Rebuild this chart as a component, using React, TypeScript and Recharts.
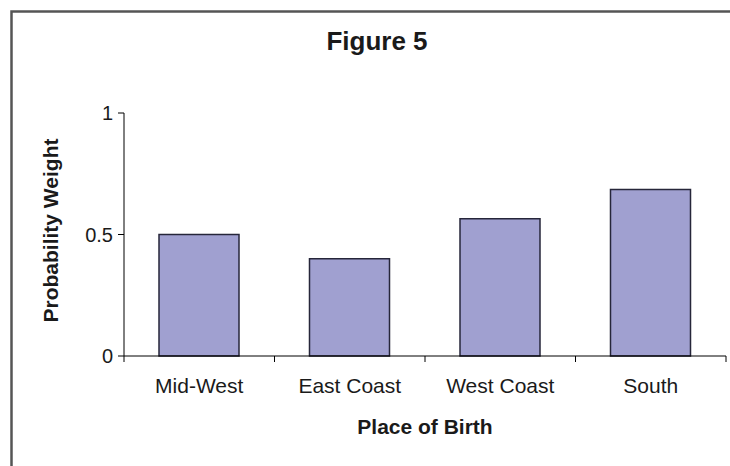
import { BarChart, Bar, XAxis, YAxis, Label } from 'recharts'

const places = ['Mid-West', 'East Coast', 'West Coast', 'South']
const weights = [0.5, 0.4, 0.565, 0.685]
const yTicks = [0, 0.5, 1]

const data = places.map((place, i) => ({ place, weight: weights[i] }))

const FONT = '"Liberation Sans", Arial, sans-serif'
const INK = '#1a1a1a'
const AXIS_Y = 356

function PlaceTick(props: any) {
  const { x, payload, index, visibleTicksCount } = props
  const half = payload.offset || 75
  const last = index === visibleTicksCount - 1
  return (
    <g>
      <line x1={x - half} x2={x - half} y1={AXIS_Y} y2={AXIS_Y + 6} stroke="#000" />
      {last && <line x1={x + half} x2={x + half} y1={AXIS_Y} y2={AXIS_Y + 6} stroke="#000" />}
      <text x={x} y={AXIS_Y + 37} textAnchor="middle" fontSize={21} fill={INK} fontFamily={FONT}>
        {payload.value}
      </text>
    </g>
  )
}

function PlaceTitle(props: any) {
  const { viewBox } = props
  return (
    <text
      x={viewBox.x + viewBox.width / 2}
      y={AXIS_Y + 78}
      textAnchor="middle"
      fontSize={21}
      fontWeight="bold"
      fill={INK}
      fontFamily={FONT}
    >
      Place of Birth
    </text>
  )
}

function WeightTitle(props: any) {
  const { viewBox } = props
  const cx = viewBox.x + 50
  const cy = viewBox.y + viewBox.height / 2 - 4
  return (
    <text
      x={cx}
      y={cy}
      transform={`rotate(-90, ${cx}, ${cy})`}
      textAnchor="middle"
      dominantBaseline="central"
      fontSize={21}
      fontWeight="bold"
      fill={INK}
      fontFamily={FONT}
    >
      Probability Weight
    </text>
  )
}

export default function App() {
  return (
    <div style={{ position: 'absolute', left: 0, top: 0, width: 730, height: 466, overflow: 'hidden', background: '#fff' }}>
      <div style={{ position: 'absolute', left: 0, top: 0 }}>
        <BarChart width={730} height={466} data={data} margin={{ top: 113, right: 4, bottom: 20, left: 0 }}>
          <YAxis
            type="number"
            domain={[0, 1]}
            ticks={yTicks}
            width={124}
            tickSize={6}
            tickMargin={5}
            tick={{ fontSize: 20, fill: INK, fontFamily: FONT }}
            tickLine={{ stroke: '#000' }}
            axisLine={{ stroke: '#000' }}
          >
            <Label content={<WeightTitle />} />
          </YAxis>
          <XAxis
            dataKey="place"
            height={90}
            tickLine={false}
            tickSize={0}
            tick={<PlaceTick />}
            axisLine={{ stroke: '#000' }}
          >
            <Label content={<PlaceTitle />} />
          </XAxis>
          <Bar dataKey="weight" barSize={80} fill="#a0a0d0" stroke="#26263a" strokeWidth={1.5} isAnimationActive={false} />
        </BarChart>
      </div>
      {/* chart frame (left and top edges) and title */}
      <svg width={730} height={466} style={{ position: 'absolute', left: 0, top: 0, pointerEvents: 'none' }}>
        <path d="M11.5 466 V11.5 H730" fill="none" stroke="#555" strokeWidth={2.5} />
        <text x={377} y={50} textAnchor="middle" fontSize={26} fontWeight="bold" fill={INK} fontFamily={FONT}>
          Figure 5
        </text>
      </svg>
    </div>
  )
}
